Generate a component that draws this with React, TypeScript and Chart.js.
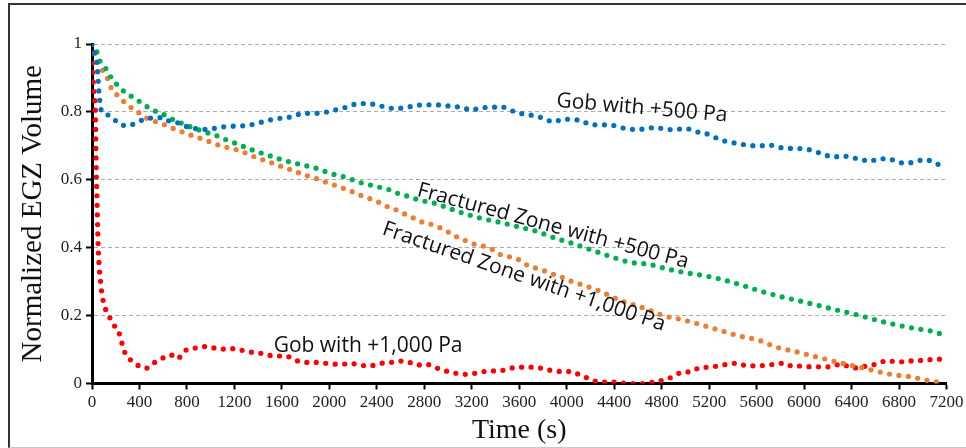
import { useEffect, useRef } from 'react';
import { Chart, registerables } from 'chart.js';

Chart.register(...registerables);

// Axis tick labels
const xTickLabels = ['0', '400', '800', '1200', '1600', '2000', '2400', '2800', '3200', '3600', '4000', '4400', '4800', '5200', '5600', '6000', '6400', '6800', '7200'];
const yTickLabels = ['0', '0.2', '0.4', '0.6', '0.8', '1'];

// Gob with +500 Pa
const gob500Time = [0, 25, 45, 58, 82, 150, 213, 290, 370, 445, 600, 665, 745, 815, 900, 980, 1060, 1140, 1300, 1380, 1460, 1540, 1700, 1780, 1850, 2010, 2090, 2160, 2240, 2400, 2480, 2560, 2640, 2720, 2800, 2880, 3040, 3120, 3200, 3280, 3360, 3440, 3520, 3590, 3670, 3750, 3820, 3890, 3970, 4050, 4130, 4200, 4360, 4440, 4520, 4600, 4680, 4760, 4840, 4920, 5000, 5080, 5160, 5230, 5310, 5390, 5470, 5550, 5630, 5700, 5780, 5860, 5940, 6010, 6090, 6170, 6250, 6320, 6400, 6480, 6550, 6630, 6710, 6790, 6870, 6940, 7020, 7100, 7170];
const gob500Volume = [1.0, 0.97, 0.93, 0.86, 0.8, 0.79, 0.77, 0.759, 0.767, 0.779, 0.783, 0.77, 0.767, 0.754, 0.75, 0.748, 0.754, 0.757, 0.76, 0.765, 0.773, 0.779, 0.787, 0.797, 0.795, 0.802, 0.81, 0.815, 0.825, 0.821, 0.813, 0.81, 0.813, 0.818, 0.821, 0.821, 0.816, 0.813, 0.805, 0.813, 0.813, 0.816, 0.806, 0.797, 0.792, 0.787, 0.779, 0.77, 0.779, 0.777, 0.774, 0.762, 0.762, 0.755, 0.75, 0.748, 0.752, 0.754, 0.748, 0.748, 0.752, 0.742, 0.738, 0.728, 0.716, 0.71, 0.705, 0.701, 0.7, 0.703, 0.696, 0.693, 0.692, 0.691, 0.684, 0.674, 0.667, 0.671, 0.665, 0.661, 0.654, 0.662, 0.662, 0.652, 0.649, 0.654, 0.66, 0.65, 0.639];

// Fractured Zone with +500 Pa
const frac500Time = [0, 40, 67, 118, 160, 211, 270, 340, 408, 475, 548, 625, 695, 775, 850, 925, 1003, 1080, 1155, 1233, 1310, 1383, 1460, 1540, 1618, 1700, 1780, 1862, 1938, 2014, 2094, 2172, 2252, 2330, 2412, 2488, 2567, 2646, 2724, 2804, 2884, 3123, 3275, 3432, 3587, 3747, 3904, 4064, 4219, 4379, 4533, 4693, 4851, 5011, 5171, 5334, 5491, 5645, 5803, 5963, 6120, 6280, 6440, 6598, 6760, 6920, 7078, 7162];
const frac500Volume = [1.0, 0.978, 0.95, 0.927, 0.902, 0.88, 0.86, 0.844, 0.829, 0.813, 0.8, 0.789, 0.775, 0.764, 0.753, 0.744, 0.735, 0.726, 0.714, 0.705, 0.693, 0.684, 0.675, 0.666, 0.657, 0.65, 0.643, 0.637, 0.628, 0.618, 0.612, 0.603, 0.593, 0.586, 0.579, 0.573, 0.561, 0.553, 0.544, 0.537, 0.531, 0.502, 0.487, 0.475, 0.462, 0.448, 0.428, 0.411, 0.392, 0.373, 0.357, 0.351, 0.337, 0.326, 0.317, 0.304, 0.288, 0.271, 0.256, 0.243, 0.23, 0.216, 0.203, 0.188, 0.174, 0.163, 0.154, 0.145];

// Fractured Zone with +1,000 Pa
const frac1000Time = [0, 25, 53, 90, 132, 163, 217, 276, 340, 407, 474, 550, 626, 700, 778, 854, 933, 1008, 1087, 1169, 1245, 1321, 1396, 1475, 1553, 1629, 1705, 1784, 1862, 1938, 2014, 2093, 2171, 2244, 2320, 2399, 2469, 2545, 2618, 2694, 2770, 2848, 2924, 2998, 3073, 3151, 3225, 3297, 3373, 3446, 3522, 3600, 3676, 3752, 3834, 3909, 3985, 4064, 4140, 4219, 4295, 4365, 4443, 4519, 4595, 4674, 4826, 4986, 5142, 5297, 5454, 5614, 5769, 5929, 6086, 6246, 6406, 6566, 6730, 6893, 7055, 7134];
const frac1000Volume = [1.0, 0.975, 0.947, 0.922, 0.898, 0.87, 0.848, 0.828, 0.81, 0.795, 0.779, 0.77, 0.76, 0.749, 0.739, 0.729, 0.72, 0.71, 0.7, 0.693, 0.686, 0.675, 0.664, 0.655, 0.645, 0.635, 0.626, 0.615, 0.607, 0.597, 0.588, 0.578, 0.568, 0.557, 0.547, 0.537, 0.524, 0.514, 0.502, 0.49, 0.477, 0.47, 0.46, 0.447, 0.432, 0.42, 0.41, 0.405, 0.395, 0.379, 0.373, 0.364, 0.347, 0.339, 0.329, 0.319, 0.31, 0.297, 0.29, 0.28, 0.27, 0.258, 0.246, 0.236, 0.229, 0.219, 0.199, 0.187, 0.172, 0.156, 0.14, 0.128, 0.107, 0.094, 0.08, 0.066, 0.053, 0.04, 0.027, 0.02, 0.008, 0.004];

// Gob with +1,000 Pa
const gob1000Time = [0, 3, 7, 11, 17, 25, 28, 30, 33, 36, 42, 48, 53, 62, 70, 78, 90, 110, 143, 185, 227, 250, 272, 320, 385, 455, 523, 590, 666, 722, 775, 848, 924, 1000, 1078, 1160, 1238, 1317, 1396, 1477, 1553, 1632, 1710, 1790, 1868, 1944, 2022, 2104, 2182, 2264, 2342, 2421, 2503, 2581, 2660, 2736, 2814, 2893, 2969, 3044, 3120, 3193, 3267, 3346, 3424, 3500, 3579, 3657, 3733, 3817, 3896, 3971, 4047, 4118, 4196, 4275, 4351, 4427, 4505, 4590, 4668, 4738, 4814, 4893, 4969, 5047, 5123, 5201, 5277, 5357, 5437, 5517, 5601, 5677, 5755, 5833, 5909, 5988, 6064, 6148, 6227, 6303, 6379, 6460, 6539, 6617, 6696, 6775, 6856, 6937, 7019, 7101, 7179];
const gob1000Volume = [1.0, 0.943, 0.915, 0.886, 0.856, 0.828, 0.8, 0.75, 0.684, 0.625, 0.54, 0.453, 0.394, 0.337, 0.308, 0.28, 0.251, 0.223, 0.199, 0.172, 0.15, 0.122, 0.095, 0.071, 0.054, 0.045, 0.061, 0.074, 0.084, 0.073, 0.095, 0.102, 0.109, 0.107, 0.101, 0.103, 0.1, 0.093, 0.091, 0.084, 0.081, 0.081, 0.069, 0.062, 0.062, 0.061, 0.057, 0.057, 0.059, 0.054, 0.052, 0.059, 0.061, 0.066, 0.064, 0.054, 0.057, 0.047, 0.038, 0.032, 0.027, 0.028, 0.033, 0.037, 0.037, 0.042, 0.048, 0.048, 0.048, 0.042, 0.037, 0.035, 0.035, 0.023, 0.014, 0.004, 0.004, 0.004, 0.0, 0.0, 0.0, 0.005, 0.01, 0.02, 0.033, 0.035, 0.047, 0.048, 0.052, 0.057, 0.06, 0.052, 0.052, 0.054, 0.057, 0.06, 0.05, 0.052, 0.049, 0.049, 0.049, 0.057, 0.05, 0.045, 0.054, 0.057, 0.068, 0.064, 0.064, 0.068, 0.068, 0.072, 0.071];

// In-plot curve captions (anchored in data units, angle in degrees)
const curveLabels = [
  { text: 'Gob with +500 Pa', t: 4634, v: 0.811, angle: 5 },
  { text: 'Fractured Zone with +500 Pa', t: 3885, v: 0.463, angle: 15 },
  { text: 'Fractured Zone with +1,000 Pa', t: 3640, v: 0.314, angle: 19 },
  { text: 'Gob with +1,000 Pa', t: 2326, v: 0.111, angle: 0 },
];

const toPoints = (times: number[], values: number[]) => times.map((t, i) => ({ x: t, y: values[i] }));

const serif = '"Liberation Serif", "Times New Roman", serif';

const dotted = (color: string) => ({
  borderColor: color,
  backgroundColor: color,
  borderWidth: 5.2,
  borderDash: [0, 9.5],
  borderCapStyle: 'round' as const,
  pointRadius: 0,
  pointHoverRadius: 0,
  fill: false,
  cubicInterpolationMode: 'monotone' as const,
});

const curveLabelPlugin = {
  id: 'curveLabels',
  afterDatasetsDraw(chart: any) {
    const { ctx, scales } = chart;
    const xs = scales.x;
    const ys = scales.y;
    ctx.save();
    ctx.font = '21px "Open Sans", "Noto Sans", sans-serif';
    ctx.fillStyle = '#111';
    ctx.textAlign = 'center';
    ctx.textBaseline = 'middle';
    for (const l of curveLabels) {
      ctx.save();
      ctx.translate(xs.getPixelForValue(l.t), ys.getPixelForValue(l.v));
      ctx.rotate((l.angle * Math.PI) / 180);
      ctx.fillText(l.text, 0, 0);
      ctx.restore();
    }
    ctx.restore();
  },
};

export default function App() {
  const canvasRef = useRef<HTMLCanvasElement | null>(null);

  useEffect(() => {
    const canvas = canvasRef.current;
    if (!canvas) return;
    const chart = new Chart(canvas, {
      type: 'line',
      data: {
        datasets: [
          { label: 'Gob with +500 Pa', data: toPoints(gob500Time, gob500Volume), ...dotted('#0070C0') },
          { label: 'Fractured Zone with +500 Pa', data: toPoints(frac500Time, frac500Volume), ...dotted('#00B050') },
          { label: 'Fractured Zone with +1,000 Pa', data: toPoints(frac1000Time, frac1000Volume), ...dotted('#ED7D31') },
          { label: 'Gob with +1,000 Pa', data: toPoints(gob1000Time, gob1000Volume), ...dotted('#FF0000') },
        ],
      },
      options: {
        responsive: false,
        animation: false,
        devicePixelRatio: 1,
        layout: { padding: { left: 16, top: 44, right: 19.5, bottom: 1 } },
        plugins: {
          legend: { display: false },
          tooltip: { enabled: false },
        },
        scales: {
          x: {
            type: 'linear',
            min: 0,
            max: 7200,
            afterFit: (scale: any) => {
              scale.height = 63.5;
              scale.paddingLeft = 0;
              scale.paddingRight = 0;
            },
            ticks: {
              stepSize: 400,
              autoSkip: false,
              maxRotation: 0,
              padding: 3,
              color: '#222',
              font: { family: serif, size: 17 },
              callback: (value: any) => xTickLabels[Math.round(Number(value) / 400)] ?? '',
            },
            grid: {
              display: true,
              drawOnChartArea: false,
              drawTicks: true,
              tickLength: 6,
              tickColor: '#000',
              tickWidth: 2,
            },
            border: { display: true, color: '#000', width: 3 },
            title: {
              display: true,
              text: 'Time (s)',
              color: '#111',
              font: { family: serif, size: 28 },
              padding: { top: 0, bottom: 0 },
            },
          },
          y: {
            type: 'linear',
            min: 0,
            max: 1,
            afterFit: (scale: any) => {
              scale.width = 76;
              scale.paddingTop = 0;
              scale.paddingBottom = 0;
            },
            ticks: {
              stepSize: 0.2,
              padding: 4,
              color: '#222',
              font: { family: serif, size: 17 },
              callback: (value: any) => yTickLabels[Math.round(Number(value) / 0.2)] ?? '',
            },
            grid: {
              display: true,
              drawOnChartArea: true,
              drawTicks: true,
              color: '#ababab',
              lineWidth: 1,
              tickLength: 6,
              tickColor: '#000',
              tickWidth: 2,
            },
            border: { display: true, color: '#000', width: 3, dash: [4, 3] },
            title: {
              display: true,
              text: 'Normalized EGZ Volume',
              color: '#111',
              font: { family: serif, size: 29 },
              padding: { top: 0, bottom: 0 },
            },
          },
        },
      },
      plugins: [curveLabelPlugin],
    });
    return () => chart.destroy();
  }, []);

  return (
    <div style={{ position: 'fixed', left: 0, top: 0, width: 966, height: 448, background: '#fff', overflow: 'hidden' }}>
      <div
        style={{
          position: 'absolute',
          left: 8,
          top: 3,
          width: 960,
          height: 442,
          borderLeft: '2px solid #333',
          borderTop: '2px solid #333',
          borderBottom: '1px solid #c8c8c8',
        }}
      />
      <canvas ref={canvasRef} width={966} height={448} style={{ position: 'absolute', left: 0, top: 0, display: 'block' }} />
    </div>
  );
}
